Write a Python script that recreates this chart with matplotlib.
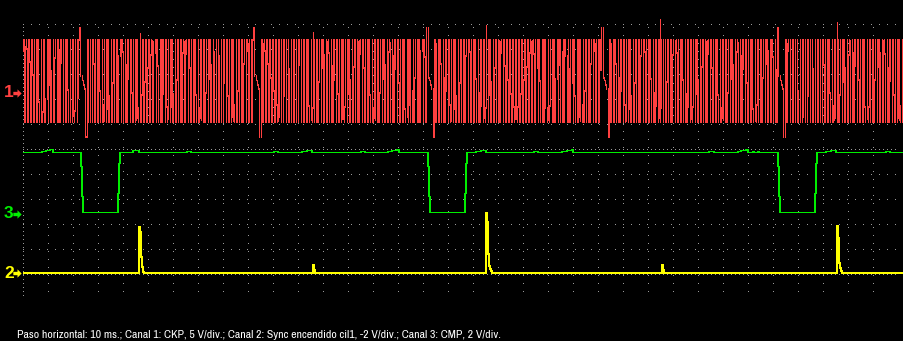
import numpy as np
import matplotlib.pyplot as plt
from matplotlib.path import Path
from matplotlib.transforms import blended_transform_factory

# ---- datos (10 ms/div, 35 div) ----
dt = 0.4          # ms por columna de pantalla
t_end = 351.6     # ms

# Canal 1: CKP (rueda 60-2), 5 V/div
ckp_gap_ms = [24.8, 94.4, 163.6, 233.6, 304.0]
ckp_teeth = 60
ckp_high = 10.6
ckp_low = -5.8
ckp_gap_profile = [13.0, 3.4, 3.0, 2.4, 1.6, 0.8, -8.8, -8.8]   # columnas -6 .. +1 del hueco
ckp_noise_ms = [46.4, 116.0, 185.2, 254.8, 325.6]
ckp_noise_v = [11.8, 12.0, 13.4, 14.6, 14.0]

# Canal 3: CMP, 2 V/div
cmp_fall_ms = [23.2, 162.0, 302.0]
cmp_rise_ms = [38.8, 177.6, 317.8]
cmp_high = 4.88
cmp_low = 0.08
cmp_fall_steps = [3.76, 1.36]
cmp_rise_steps = [1.6, 4.0]
cmp_bump_t0 = [7.6, 9.2, 10.8, 44.0, 65.6, 100.4, 111.6, 113.6, 135.2, 146.0, 147.6, 149.6,
               181.2, 183.2, 204.4, 215.6, 217.6, 219.6, 274.4, 286.0, 287.2, 289.2, 292.0,
               294.0, 321.2, 323.2, 345.2]
cmp_bump_t1 = [9.2, 10.8, 12.0, 46.4, 67.2, 102.0, 113.6, 115.6, 136.8, 147.6, 149.6, 150.4,
               183.2, 185.2, 206.0, 217.6, 219.6, 220.0, 276.4, 287.2, 289.2, 290.0, 292.4,
               294.4, 323.2, 325.2, 346.8]
cmp_bump_v = [0.08, 0.16, 0.24, 0.16, 0.08, 0.08, 0.08, 0.16, 0.08, 0.08, 0.16, 0.24,
              0.08, 0.16, 0.08, 0.08, 0.16, 0.24, 0.08, 0.08, 0.16, 0.24, 0.08,
              0.08, 0.08, 0.16, 0.08]

# Canal 2: Sync encendido cil1, -2 V/div
sync_ms = [46.4, 116.0, 185.2, 255.6, 325.6]
sync_pulse_1 = [-3.68, -3.28, -1.28, -0.48, -0.08]
sync_pulse_2 = [-0.64, -0.24]
sync_pulse_3 = [-4.8, -4.08, -1.52, -0.56, -0.32, -0.16]
sync_pulse_4 = [-0.64, -0.24]
sync_pulse_5 = [-3.76, -2.8, -0.8, -0.4, -0.16]

# escala (V/div) y posicion del cero (div) de cada canal
ch_scale = {1: 5.0, 2: -2.0, 3: 2.0}
ch_zero = {1: 8.24, 2: 1.01, 3: 3.4}
ch_color = {1: '#ff4040', 2: '#ffff00', 3: '#00ee00'}

caption = ('Paso horizontal: 10 ms.; Canal 1: CKP, 5 V/div.; Canal 2: Sync encendido cil1, '
           '-2 V/div.; Canal 3: CMP, 2 V/div.')

# ---- construir las senales ----
t = np.arange(0, t_end + dt / 2, dt)
n = len(t)

# CKP: cada columna muestra el min/max de la senal (deteccion de picos)
t_rev = np.mean(np.diff(ckp_gap_ms))
t_tooth = t_rev / ckp_teeth
ref = np.array([ckp_gap_ms[0] - t_rev] + ckp_gap_ms)
over = 16
tf = (t[:, None] - dt / 2 + (np.arange(over)[None, :] + 0.5) * dt / over).ravel()
last_gap = ref[np.searchsorted(ref, tf, side='right') - 1]
u = (tf - last_gap) / t_tooth
mid = (ckp_high + ckp_low) / 2
half = (ckp_high - ckp_low) / 2
wave = (mid + half * np.clip(1.7 * np.sin(2 * np.pi * (u - 0.45)), -1, 1)).reshape(n, over)
ckp_lo = wave.min(axis=1)
ckp_hi = wave.max(axis=1)
ckp_end = wave[:, -1].copy()
for g in ckp_gap_ms:
    k0 = int(round(g / dt))
    for j, v in enumerate(ckp_gap_profile):
        k = k0 - 6 + j
        if 0 <= k < n:
            ckp_lo[k] = ckp_hi[k] = ckp_end[k] = v
# continuidad entre columnas
ckp_lo[1:] = np.minimum(ckp_lo[1:], ckp_end[:-1])
ckp_hi[1:] = np.maximum(ckp_hi[1:], ckp_end[:-1])
for tn, v in zip(ckp_noise_ms, ckp_noise_v):
    ckp_hi[int(round(tn / dt))] = v

# CMP
cmp_sig = np.full(n, cmp_high)
for tfall, trise in zip(cmp_fall_ms, cmp_rise_ms):
    kf, kr = int(round(tfall / dt)), int(round(trise / dt))
    cmp_sig[kf:kr] = cmp_low
    cmp_sig[kf:kf + len(cmp_fall_steps)] = cmp_fall_steps
    cmp_sig[kr - len(cmp_rise_steps):kr] = cmp_rise_steps
for a, b, v in zip(cmp_bump_t0, cmp_bump_t1, cmp_bump_v):
    cmp_sig[int(round(a / dt)):int(round(b / dt))] = cmp_high + v

# Sync
sync = np.zeros(n)
for ts, p in zip(sync_ms, [sync_pulse_1, sync_pulse_2, sync_pulse_3, sync_pulse_4, sync_pulse_5]):
    k0 = int(round(ts / dt))
    sync[k0:k0 + len(p)] = p

# ---- dibujo ----
fig = plt.figure(figsize=(9.04, 3.41), dpi=100, facecolor='black')
W, H = 904, 341
# ejes centrados en pixeles: x=0 en la columna 24, y=0 en la fila 298
ax = fig.add_axes([23.5 / W, (H - 298.5) / H, 875 / W, 275 / H])
ax.set_facecolor('black')
ax.set_xlim(0, 350)
ax.set_ylim(0, 11)
ax.axis('off')

# reticula punteada
grid_c = '#9a9a9a'
for x in np.arange(0, 351, 10):
    dense = x == 0
    ax.plot([x, x], [0, 11], color=grid_c, lw=0.72, ls=(0, (1, 3 if dense else 7)),
            antialiased=False, zorder=1)
for y in range(0, 12):
    dense = y in (1, 6)
    ax.plot([0, 350], [y, y], color=grid_c, lw=0.72, ls=(0, (1, 3 if dense else 7)),
            antialiased=False, zorder=1)

# canal 1 como barras verticales por columna
px = 11 / 275   # 1 px en divisiones
ax.vlines(t, ch_zero[1] + ckp_lo / ch_scale[1], ch_zero[1] + ckp_hi / ch_scale[1] + px,
          color=ch_color[1], lw=0.72, antialiased=False, clip_on=False, zorder=3)
for ch, sig in [(3, cmp_sig), (2, sync)]:
    ax.plot(t, ch_zero[ch] + sig / ch_scale[ch], color=ch_color[ch], lw=0.72,
            drawstyle='steps-mid', antialiased=False, clip_on=False, zorder=3)

# marcas de canal
arrow = Path([(-1, -0.4), (0, -0.4), (0, -1), (1, 0), (0, 1), (0, 0.4), (-1, 0.4), (-1, -0.4)])
trf = blended_transform_factory(fig.transFigure, ax.transData)
for ch in (1, 3, 2):
    fig.text(4 / W, ch_zero[ch], str(ch), transform=trf, color=ch_color[ch], fontsize=12.5,
             fontweight='bold', family='Liberation Sans', ha='left', va='center')
    ax.plot([17.5 / W], [ch_zero[ch]], transform=trf, marker=arrow, ms=6,
            color=ch_color[ch], mec='none', clip_on=False)

fig.text(17 / W, 1 - 338 / H, caption, color='white', fontsize=8.5,
         family=['Archivo Narrow', 'Liberation Sans'], ha='left', va='baseline')

fig.savefig('out.png', dpi=100, facecolor='black')
